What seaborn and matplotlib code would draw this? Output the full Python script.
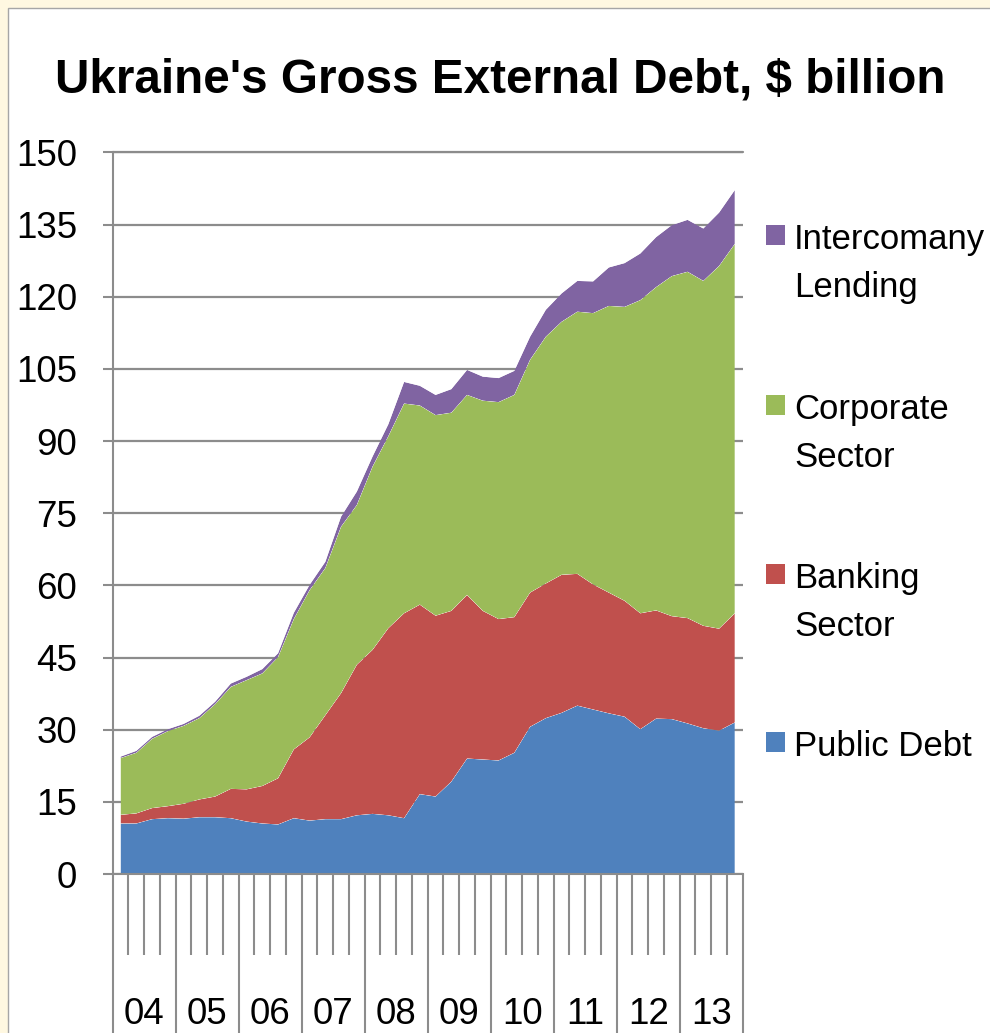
import numpy as np
import pandas as pd
import matplotlib
matplotlib.use("Agg")
import matplotlib.pyplot as plt
import seaborn as sns
import seaborn.objects as so
from matplotlib.patches import Rectangle
from matplotlib.transforms import blended_transform_factory
from matplotlib.ticker import FixedLocator, NullFormatter

# ---------------- data ----------------
years = ["04", "05", "06", "07", "08", "09", "10", "11", "12", "13"]
quarters = [f"{y}Q{q}" for y in years for q in range(1, 5)]

public_debt = [10.5, 10.5, 11.4, 11.6, 11.5, 11.8, 11.8, 11.6, 10.9, 10.5,
               10.3, 11.6, 11.1, 11.4, 11.4, 12.2, 12.5, 12.2, 11.6, 16.6,
               16.1, 19.2, 24.0, 23.8, 23.6, 25.2, 30.6, 32.4, 33.5, 35.0,
               34.2, 33.4, 32.7, 30.1, 32.3, 32.2, 31.3, 30.3, 29.8, 31.5]
banking_sector = [1.8, 2.1, 2.3, 2.5, 3.1, 3.7, 4.3, 6.1, 6.7, 7.8,
                  9.6, 14.3, 17.3, 21.6, 26.2, 31.3, 34.1, 38.9, 42.6, 39.4,
                  37.6, 35.5, 34.0, 30.9, 29.4, 28.2, 27.9, 28.0, 28.7, 27.4,
                  26.0, 25.1, 24.1, 24.1, 22.5, 21.4, 21.9, 21.3, 21.2, 22.7]
corporate_sector = [11.8, 12.6, 14.4, 15.6, 16.2, 16.9, 19.2, 21.2, 22.7, 23.4,
                    25.2, 27.1, 30.6, 30.6, 34.6, 33.2, 38.1, 39.9, 43.6, 41.4,
                    41.7, 41.2, 41.6, 43.7, 45.1, 46.2, 48.4, 51.3, 52.6, 54.5,
                    56.4, 59.6, 61.1, 65.1, 67.2, 70.7, 72.0, 71.7, 75.4, 76.8]
intercompany_lending = [0.3, 0.4, 0.4, 0.4, 0.4, 0.5, 0.5, 0.7, 0.7, 0.9,
                        0.8, 1.3, 1.1, 1.3, 2.1, 2.8, 2.1, 2.5, 4.5, 4.1,
                        4.2, 4.9, 5.2, 5.0, 5.0, 5.0, 4.8, 5.6, 5.9, 6.4,
                        6.6, 8.0, 9.1, 9.7, 10.4, 10.6, 10.8, 10.9, 11.1, 11.2]

series_names = ["Public Debt", "Banking Sector", "Corporate Sector", "Intercomany Lending"]
legend_labels = ["Public Debt", "Banking\nSector", "Corporate\nSector", "Intercomany\nLending"]
colors = ["#4F81BD", "#C0504D", "#9BBB59", "#8064A2"]
yticks = list(range(0, 151, 15))
title = "Ukraine's Gross External Debt, $ billion"

# long table in stacking order (per quarter: public, banking, corporate, intercompany)
rows = []
for i in range(len(quarters)):
    for name, vals in zip(series_names,
                          [public_debt, banking_sector, corporate_sector, intercompany_lending]):
        rows.append({"q": i, "quarter": quarters[i], "value": vals[i], "series": name})
df = pd.DataFrame(rows)

# ---------------- figure ----------------
sns.set_style("white")
FONT = ["Liberation Sans", "DejaVu Sans"]
plt.rcParams["font.family"] = FONT

W, H = 990, 1033
fig = plt.figure(figsize=(W / 100, H / 100), dpi=100, facecolor="#FFF8E1")
fig.patches.append(Rectangle((8 / W, -0.1), 1.2, 1 - 8 / H + 0.1, transform=fig.transFigure,
                             facecolor="white", edgecolor="#A6A6A6", lw=1.0, zorder=-5))

ax_left, ax_right = 112.7 / W, 742.7 / W
ax_bottom, ax_top = 1 - 874 / H, 1 - 152.5 / H
ax = fig.add_axes([ax_left, ax_bottom, ax_right - ax_left, ax_top - ax_bottom])
ax.set_zorder(1)

(
    so.Plot(df, x="q", y="value", color="series")
    .add(so.Area(alpha=1, edgewidth=0), so.Stack(), legend=False)
    .scale(color=so.Nominal(dict(zip(series_names, colors)), order=series_names))
    .on(ax)
    .plot()
)

grid_c = "#8C8C8C"
ax.set_facecolor("none")
ax.set_xlabel("")
ax.set_ylabel("")
ax.set_xlim(-0.5, len(quarters) - 0.5)
ax.set_ylim(0, 150)
ax.set_axisbelow(True)
for s in ["top", "right"]:
    ax.spines[s].set_visible(False)
for s in ["left", "bottom"]:
    ax.spines[s].set_visible(True)
    ax.spines[s].set_color(grid_c)
    ax.spines[s].set_linewidth(1.5)
    ax.spines[s].set_zorder(5)

ax.yaxis.set_major_locator(FixedLocator(yticks))
ax.set_yticklabels([str(t) for t in yticks])
ax.grid(False)
ax.yaxis.grid(True, color=grid_c, lw=1.6)
# top gridline (at the axes edge) drawn unclipped so it shows at full width
ax.axhline(yticks[-1], color=grid_c, lw=1.6, clip_on=False, zorder=0.5)
ax.tick_params(axis="y", which="major", direction="out", length=7.5, width=1.5,
               color=grid_c, pad=18, labelsize=26.5, labelcolor="black", left=True)

# category axis: quarter boundaries (minor) and year boundaries (major)
year_bounds = [4 * k - 0.5 for k in range(len(years) + 1)]
quarter_bounds = [i - 0.5 for i in range(len(quarters) + 1)]
ax.xaxis.set_major_locator(FixedLocator(year_bounds))
ax.xaxis.set_minor_locator(FixedLocator(quarter_bounds))
ax.xaxis.set_major_formatter(NullFormatter())
ax.xaxis.set_minor_formatter(NullFormatter())
ax.tick_params(axis="x", which="major", direction="out", length=125, width=1.5,
               color=grid_c, bottom=True)
ax.tick_params(axis="x", which="minor", direction="out", length=58, width=1.5,
               color=grid_c, bottom=True)

trans = blended_transform_factory(ax.transData, fig.transFigure)
for k, y in enumerate(years):
    ax.text(4 * k + 1.5, 1 - 1024 / H, y, transform=trans, ha="center", va="baseline",
            fontsize=26.5, color="black", clip_on=False)

# title
fig.text(500 / W, 1 - 93 / H, title, ha="center", va="baseline", fontsize=34.3,
         fontweight="bold", color="black")

# legend (top to bottom: intercompany, corporate, banking, public)
centers = {"Intercomany Lending": 235, "Corporate Sector": 405,
           "Banking Sector": 574, "Public Debt": 742}
for name, lab, col in zip(series_names, legend_labels, colors):
    c = centers[name]
    fig.patches.append(Rectangle((766 / W, 1 - (c + 10) / H), 19 / W, 20 / H,
                                 transform=fig.transFigure, facecolor=col,
                                 edgecolor="none", zorder=3))
    for j, line in enumerate(lab.split("\n")):
        fig.text(794 / W, 1 - (c + 14 + 48 * j) / H, line, ha="left", va="baseline",
                 fontsize=25, color="black")

fig.savefig("out.png", dpi=100, facecolor=fig.get_facecolor())
